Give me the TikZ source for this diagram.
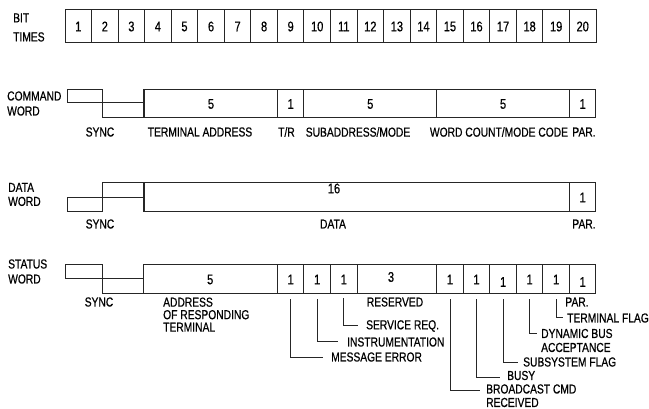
\documentclass[tikz,border=0pt]{standalone}
\usepackage{fontspec}
\setmainfont{Liberation Sans}[FakeStretch=0.79,FakeBold=0.6]
\begin{document}
\begin{tikzpicture}[x=1pt,y=-1pt,
  ink/.style={draw=black!85, line width=1pt},
  cell/.style={ink, minimum height=33pt, minimum width=26.55pt, inner sep=0pt,
    font=\fontsize{14}{14}\selectfont, text=black},
  fld/.style={ink, inner sep=0pt, font=\fontsize{14}{14}\selectfont, text=black},
  lab/.style={inner sep=0pt, font=\fontsize{13}{15}\selectfont, text=black, align=left},
  lead/.style={ink}]
\useasboundingbox (0,0) rectangle (649,409);

% ---- bit times ----
\node[lab, anchor=west] (bitlab) at (13,27.5) {BIT\\[4pt]TIMES};
\foreach \i in {1,...,20}
  \node[cell] (b\i) at ({65+26.55*(\i-0.5)},26.5) {\i};

% ---- command word ----
\node[lab, anchor=west] (cmdlab) at (7,103.5) {COMMAND\\WORD};
\draw[ink] (67,90) rectangle (102.5,103);
\draw[ink] (102.5,103) rectangle (144.65,118);
\node[fld, minimum width=132.75pt, minimum height=28pt] (c1) at (211.0,104) {5};
\node[fld, minimum width=26.55pt,  minimum height=28pt] (c2) at (290.7,104) {1};
\node[fld, minimum width=132.75pt, minimum height=28pt] (c3) at (370.3,104) {5};
\node[fld, minimum width=132.75pt, minimum height=28pt] (c4) at (503.1,104) {5};
\node[fld, minimum width=26.55pt,  minimum height=28pt] (c5) at (582.7,104) {1};
\draw[ink, line width=1.6pt] (c1.north west) -- (c1.south west);
\node[lab] (csync) at (100,132) {SYNC};
\node[lab] (cta)   at (200,132) {TERMINAL ADDRESS};
\node[lab, anchor=west] (ctr) at (278,132) {T/R};
\node[lab] (csa)   at (358,132) {SUBADDRESS/MODE};
\node[lab] (cwc)   at (499,132) {WORD COUNT/MODE CODE};
\node[lab] (cpar)  at (584,132) {PAR.};

% ---- data word ----
\node[lab, anchor=west] (datlab) at (8,194.5) {DATA\\[-1pt]WORD};
\draw[ink] (67,198) rectangle (102.5,212);
\draw[ink] (102.5,183) rectangle (144.65,198);
\node[fld, minimum width=424.8pt, minimum height=29pt] (d1) at (357.05,197.5) {};
\node[fld, minimum width=26.55pt, minimum height=29pt] (d2) at (582.7,197.5) {1};
\node[fld, draw=none] (d16) at (334,188.5) {16};
\draw[ink, line width=1.6pt] (d1.north west) -- (d1.south west);
\node[lab] (dsync) at (100,224) {SYNC};
\node[lab] (ddata) at (333,224) {DATA};
\node[lab] (dpar)  at (584,224) {PAR.};

% ---- status word ----
\node[lab, anchor=west] (stlab) at (8,271.5) {STATUS\\WORD};
\draw[ink] (65,265) rectangle (102.5,279);
\draw[ink] (102.5,279) rectangle (143,294);
\node[fld, minimum width=134.4pt, minimum height=29pt] (s1)  at (210.2,279.5) {5};
\node[fld, minimum width=26.55pt, minimum height=29pt] (s9)  at (290.7,279.5) {1};
\node[fld, minimum width=26.55pt, minimum height=29pt] (s10) at (317.2,279.5) {1};
\node[fld, minimum width=26.55pt, minimum height=29pt] (s11) at (343.8,279.5) {1};
\node[fld, minimum width=79.65pt, minimum height=29pt] (s12) at (396.9,279.5) {};
\node[fld, draw=none] (s3) at (391,277) {3};
\node[fld, minimum width=26.55pt, minimum height=29pt] (s15) at (450.0,279.5) {1};
\node[fld, minimum width=26.55pt, minimum height=29pt] (s16) at (476.5,279.5) {1};
\node[fld, minimum width=26.55pt, minimum height=29pt] (s17) at (503.1,279.5) {};
\node[fld, draw=none] (s17t) at (503.1,282) {1};
\node[fld, minimum width=26.55pt, minimum height=29pt] (s18) at (529.6,279.5) {1};
\node[fld, minimum width=26.55pt, minimum height=29pt] (s19) at (556.2,279.5) {1};
\node[fld, minimum width=26.55pt, minimum height=29pt] (s20) at (582.7,279.5) {};
\node[fld, draw=none] (s20t) at (582.7,282) {1};
\node[lab] (ssync) at (99,302) {SYNC};
\node[lab, anchor=north west, font=\fontsize{13}{12.5}\selectfont] (sadr) at (163,297.4) {ADDRESS\\OF RESPONDING\\TERMINAL};
\node[lab] (sres) at (395,302) {RESERVED};
\node[lab] (spar) at (577,302) {PAR.};

% ---- status leaders ----
\node[lab, anchor=west] (lsr)  at (366,326) {SERVICE REQ.};
\node[lab, anchor=west] (lins) at (347,342) {INSTRUMENTATION};
\node[lab, anchor=west] (lme)  at (331,357) {MESSAGE ERROR};
\node[lab, anchor=west] (lbc)  at (486,389) {BROADCAST CMD};
\node[lab, anchor=west] (lrec) at (486,402.5) {RECEIVED};
\node[lab, anchor=west] (lbusy) at (507,375.5) {BUSY};
\node[lab, anchor=west] (lsub) at (523,362) {SUBSYSTEM FLAG};
\node[lab, anchor=west] (ldyn) at (541,333.5) {DYNAMIC BUS};
\node[lab, anchor=west] (lacc) at (541,347.5) {ACCEPTANCE};
\node[lab, anchor=west] (ltf)  at (567,318) {TERMINAL FLAG};

\draw[lead] ([yshift=-5pt]s9.south)  |- ([xshift=-8pt]lme.west);
\draw[lead] ([yshift=-5pt]s10.south) |- ([xshift=-9pt]lins.west);
\draw[lead] ([yshift=-4pt]s11.south) |- ([xshift=-8pt]lsr.west);
\draw[lead] ([yshift=-5pt]s15.south) |- ([xshift=-6pt,yshift=-1.5pt]lbc.west);
\draw[lead] ([yshift=-5pt]s16.south) |- ([xshift=-7pt,yshift=-1.5pt]lbusy.west);
\draw[lead] ([yshift=-5pt]s17.south) |- ([xshift=-5pt]lsub.west);
\draw[lead] ([yshift=-5pt]s18.south) |- ([xshift=-4pt]ldyn.west);
\draw[lead] ([yshift=-5pt]s19.south) |- ([xshift=-4pt]ltf.west);
\end{tikzpicture}
\end{document}
